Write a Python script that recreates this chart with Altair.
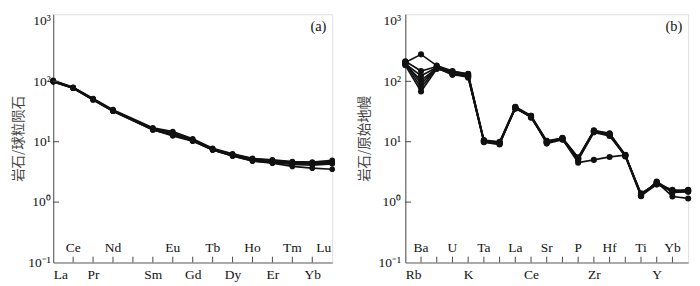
import altair as alt
import pandas as pd

# ---------------- data: (a) REE chondrite-normalised ----------------
ree = ["La", "Ce", "Pr", "Nd", "Sm", "Eu", "Gd", "Tb", "Dy", "Ho", "Er", "Tm", "Yb", "Lu"]
ree_pos = [0, 1, 2, 3, 5, 6, 7, 8, 9, 10, 11, 12, 13, 14]
ree_bottom = ["La", "Pr", "Sm", "Gd", "Dy", "Er", "Yb"]
ree_top = ["Ce", "Nd", "Eu", "Tb", "Ho", "Tm", "Lu"]
ree_s1 = [104, 80, 52, 34, 17.0, 14.8, 11.2, 7.8, 6.3, 5.3, 5.0, 4.7, 4.6, 4.9]
ree_s2 = [102, 79, 51, 33, 16.5, 14.2, 10.9, 7.6, 6.2, 5.2, 4.9, 4.6, 4.5, 4.7]
ree_s3 = [100, 78, 50, 33, 16.2, 13.5, 10.6, 7.5, 6.1, 5.0, 4.7, 4.5, 4.4, 4.5]
ree_s4 = [98, 77, 50, 32, 15.8, 12.8, 10.4, 7.4, 5.9, 4.9, 4.6, 4.4, 4.3, 4.4]
ree_s5 = [101, 78, 51, 33, 16.0, 12.5, 10.2, 7.3, 5.8, 4.8, 4.5, 4.2, 4.1, 4.3]
ree_s6 = [99, 77, 49, 32, 15.6, 13.0, 10.5, 7.3, 5.8, 4.8, 4.4, 3.9, 3.65, 3.5]
ree_samples = [ree_s1, ree_s2, ree_s3, ree_s4, ree_s5, ree_s6]

# ---------------- data: (b) primitive-mantle spider ----------------
tr = ["Rb", "Ba", "Th", "U", "K", "Ta", "Nb", "La", "Ce", "Sr", "Nd", "P", "Zr", "Hf",
      "Sm", "Ti", "Y", "Yb", "Lu"]
tr_s1 = [205, 280, 182, 148, 132, 10.7, 10.0, 38, 27.0, 10.4, 11.5, 5.4, 15.4, 13.8, 6.0, 1.33, 2.10, 1.54, 1.56]
tr_s2 = [215, 148, 176, 140, 126, 10.3, 9.5, 36, 26.0, 9.6, 11.0, 5.2, 14.8, 13.0, 5.8, 1.25, 2.20, 1.50, 1.60]
tr_s3 = [195, 124, 170, 130, 120, 10.0, 9.2, 37, 25.0, 10.0, 11.2, 5.0, 14.3, 12.4, 5.9, 1.40, 2.00, 1.60, 1.50]
tr_s4 = [190, 104, 165, 145, 133, 10.5, 9.8, 35, 26.5, 9.3, 10.8, 5.3, 15.0, 13.4, 6.1, 1.30, 2.15, 1.24, 1.15]
tr_s5 = [210, 90, 172, 135, 118, 9.8, 9.0, 36.5, 25.5, 10.2, 11.3, 5.1, 14.5, 12.8, 5.7, 1.28, 1.95, 1.55, 1.58]
tr_s6 = [200, 78, 168, 128, 122, 10.2, 9.6, 37.5, 26.0, 9.8, 11.6, 5.5, 15.2, 13.5, 6.0, 1.36, 2.05, 1.50, 1.52]
tr_s7 = [185, 68, 160, 138, 115, 10.4, 9.4, 36, 27.0, 9.9, 11.0, 4.5, 5.0, 5.6, 6.0, 1.30, 2.10, 1.45, 1.48]
tr_samples = [tr_s1, tr_s2, tr_s3, tr_s4, tr_s5, tr_s6, tr_s7]

decades = [0.1, 1, 10, 100, 1000]

# ---------------- build tables ----------------
ree_rows = []
for i, s in enumerate(ree_samples):
    for el, p, v in zip(ree, ree_pos, s):
        ree_rows.append({"sample": f"s{i}", "el": el, "pos": p, "val": v})
ree_df = pd.DataFrame(ree_rows)

tr_rows = []
for i, s in enumerate(tr_samples):
    for p, (el, v) in enumerate(zip(tr, s)):
        tr_rows.append({"sample": f"s{i}", "el": el, "pos": p, "val": v})
tr_df = pd.DataFrame(tr_rows)

SERIF = "Liberation Serif"
CJK = "Noto Sans CJK SC"
H = 258
YDOM = [0.1, 1290]

ylabel_expr = ("datum.value < 0.5 ? '10⁻¹' : datum.value < 5 ? '10⁰' : "
               "datum.value < 50 ? '10¹' : datum.value < 500 ? '10²' : '10³'")


def panel(df, names, positions, bottom, top, width, ytitle, letter,
          title_pad, label_pad, pt_size):
    n_max = max(positions)
    name_of = dict(zip(names, positions))
    bottom_vals = [name_of[b] for b in bottom]
    expr_parts = " : ".join(f"datum.value == {name_of[b]} ? '{b}'" for b in bottom) + " : ''"

    xs = alt.Scale(domain=[0, n_max], nice=False, zero=False)
    ys = alt.Scale(type="log", domain=YDOM, nice=False)

    x_axis = alt.Axis(values=bottom_vals, labelExpr=expr_parts, ticks=False, grid=False,
                      title=None, labelFont=SERIF, labelFontSize=14, labelPadding=6,
                      labelColor="#111", domainColor="#666", domainWidth=1.2)
    y_axis = alt.Axis(values=decades, labelExpr=ylabel_expr, ticks=False, grid=False,
                      title=ytitle, titleFont=CJK, titleFontSize=14, titleFontWeight="normal",
                      titleColor="#444", titlePadding=title_pad, labelFont=SERIF, labelFontSize=14,
                      labelPadding=label_pad, labelColor="#111", domainColor="#666",
                      domainWidth=1.2)

    base = alt.Chart(df)
    lines = base.mark_line(color="#111", strokeWidth=1.7).encode(
        x=alt.X("pos:Q", scale=xs, axis=x_axis),
        y=alt.Y("val:Q", scale=ys, axis=y_axis),
        detail="sample:N",
        order="pos:Q",
    )
    pts = base.mark_circle(color="#111", size=pt_size, opacity=1).encode(
        x=alt.X("pos:Q", scale=xs), y=alt.Y("val:Q", scale=ys))

    tick_df = pd.DataFrame({"pos": list(range(1, n_max))})
    xticks = alt.Chart(tick_df).mark_rule(color="#444", strokeWidth=1).encode(
        x=alt.X("pos:Q", scale=xs), y=alt.value(H - 6), y2=alt.value(H))

    dec_df = pd.DataFrame({"val": decades[1:-1]})
    yticks = alt.Chart(dec_df).mark_rule(color="#444", strokeWidth=1).encode(
        y=alt.Y("val:Q", scale=ys), x=alt.value(0), x2=alt.value(6))

    top_df = pd.DataFrame({"name": top, "pos": [name_of[t] for t in top]})
    top_mid = alt.Chart(top_df[top_df["pos"] < n_max]).mark_text(
        font=SERIF, fontSize=14, color="#111", baseline="middle", align="center").encode(
        x=alt.X("pos:Q", scale=xs), y=alt.value(H - 15), text="name:N")
    layers = [lines, pts, xticks, yticks, top_mid]
    if (top_df["pos"] == n_max).any():
        top_end = alt.Chart(top_df[top_df["pos"] == n_max]).mark_text(
            font=SERIF, fontSize=14, color="#111", baseline="middle", align="right", dx=-1).encode(
            x=alt.X("pos:Q", scale=xs), y=alt.value(H - 15), text="name:N")
        layers.append(top_end)

    let_df = pd.DataFrame({"t": [letter]})
    letter_txt = alt.Chart(let_df).mark_text(
        font=SERIF, fontSize=15, color="#111", align="right", baseline="middle").encode(
        x=alt.value(width - 6), y=alt.value(12), text="t:N")
    layers.append(letter_txt)

    return alt.layer(*layers).properties(width=width, height=H)


left = panel(ree_df, ree, ree_pos, ree_bottom, ree_top, 290, "岩石/球粒陨石", "(a)",
             title_pad=3, label_pad=3, pt_size=34)
right = panel(tr_df, tr, list(range(len(tr))),
              tr[0::2], tr[1::2], 294, "岩石/原始地幔", "(b)",
              title_pad=7, label_pad=5, pt_size=40)

chart = alt.hconcat(left, right, spacing=22).properties(
    padding={"left": 3, "top": 0, "right": 0, "bottom": 0}
).configure_view(stroke="#888", strokeWidth=1.2).configure(background="white")

chart.save("out.html", embed_options={"renderer": "svg", "actions": False})
